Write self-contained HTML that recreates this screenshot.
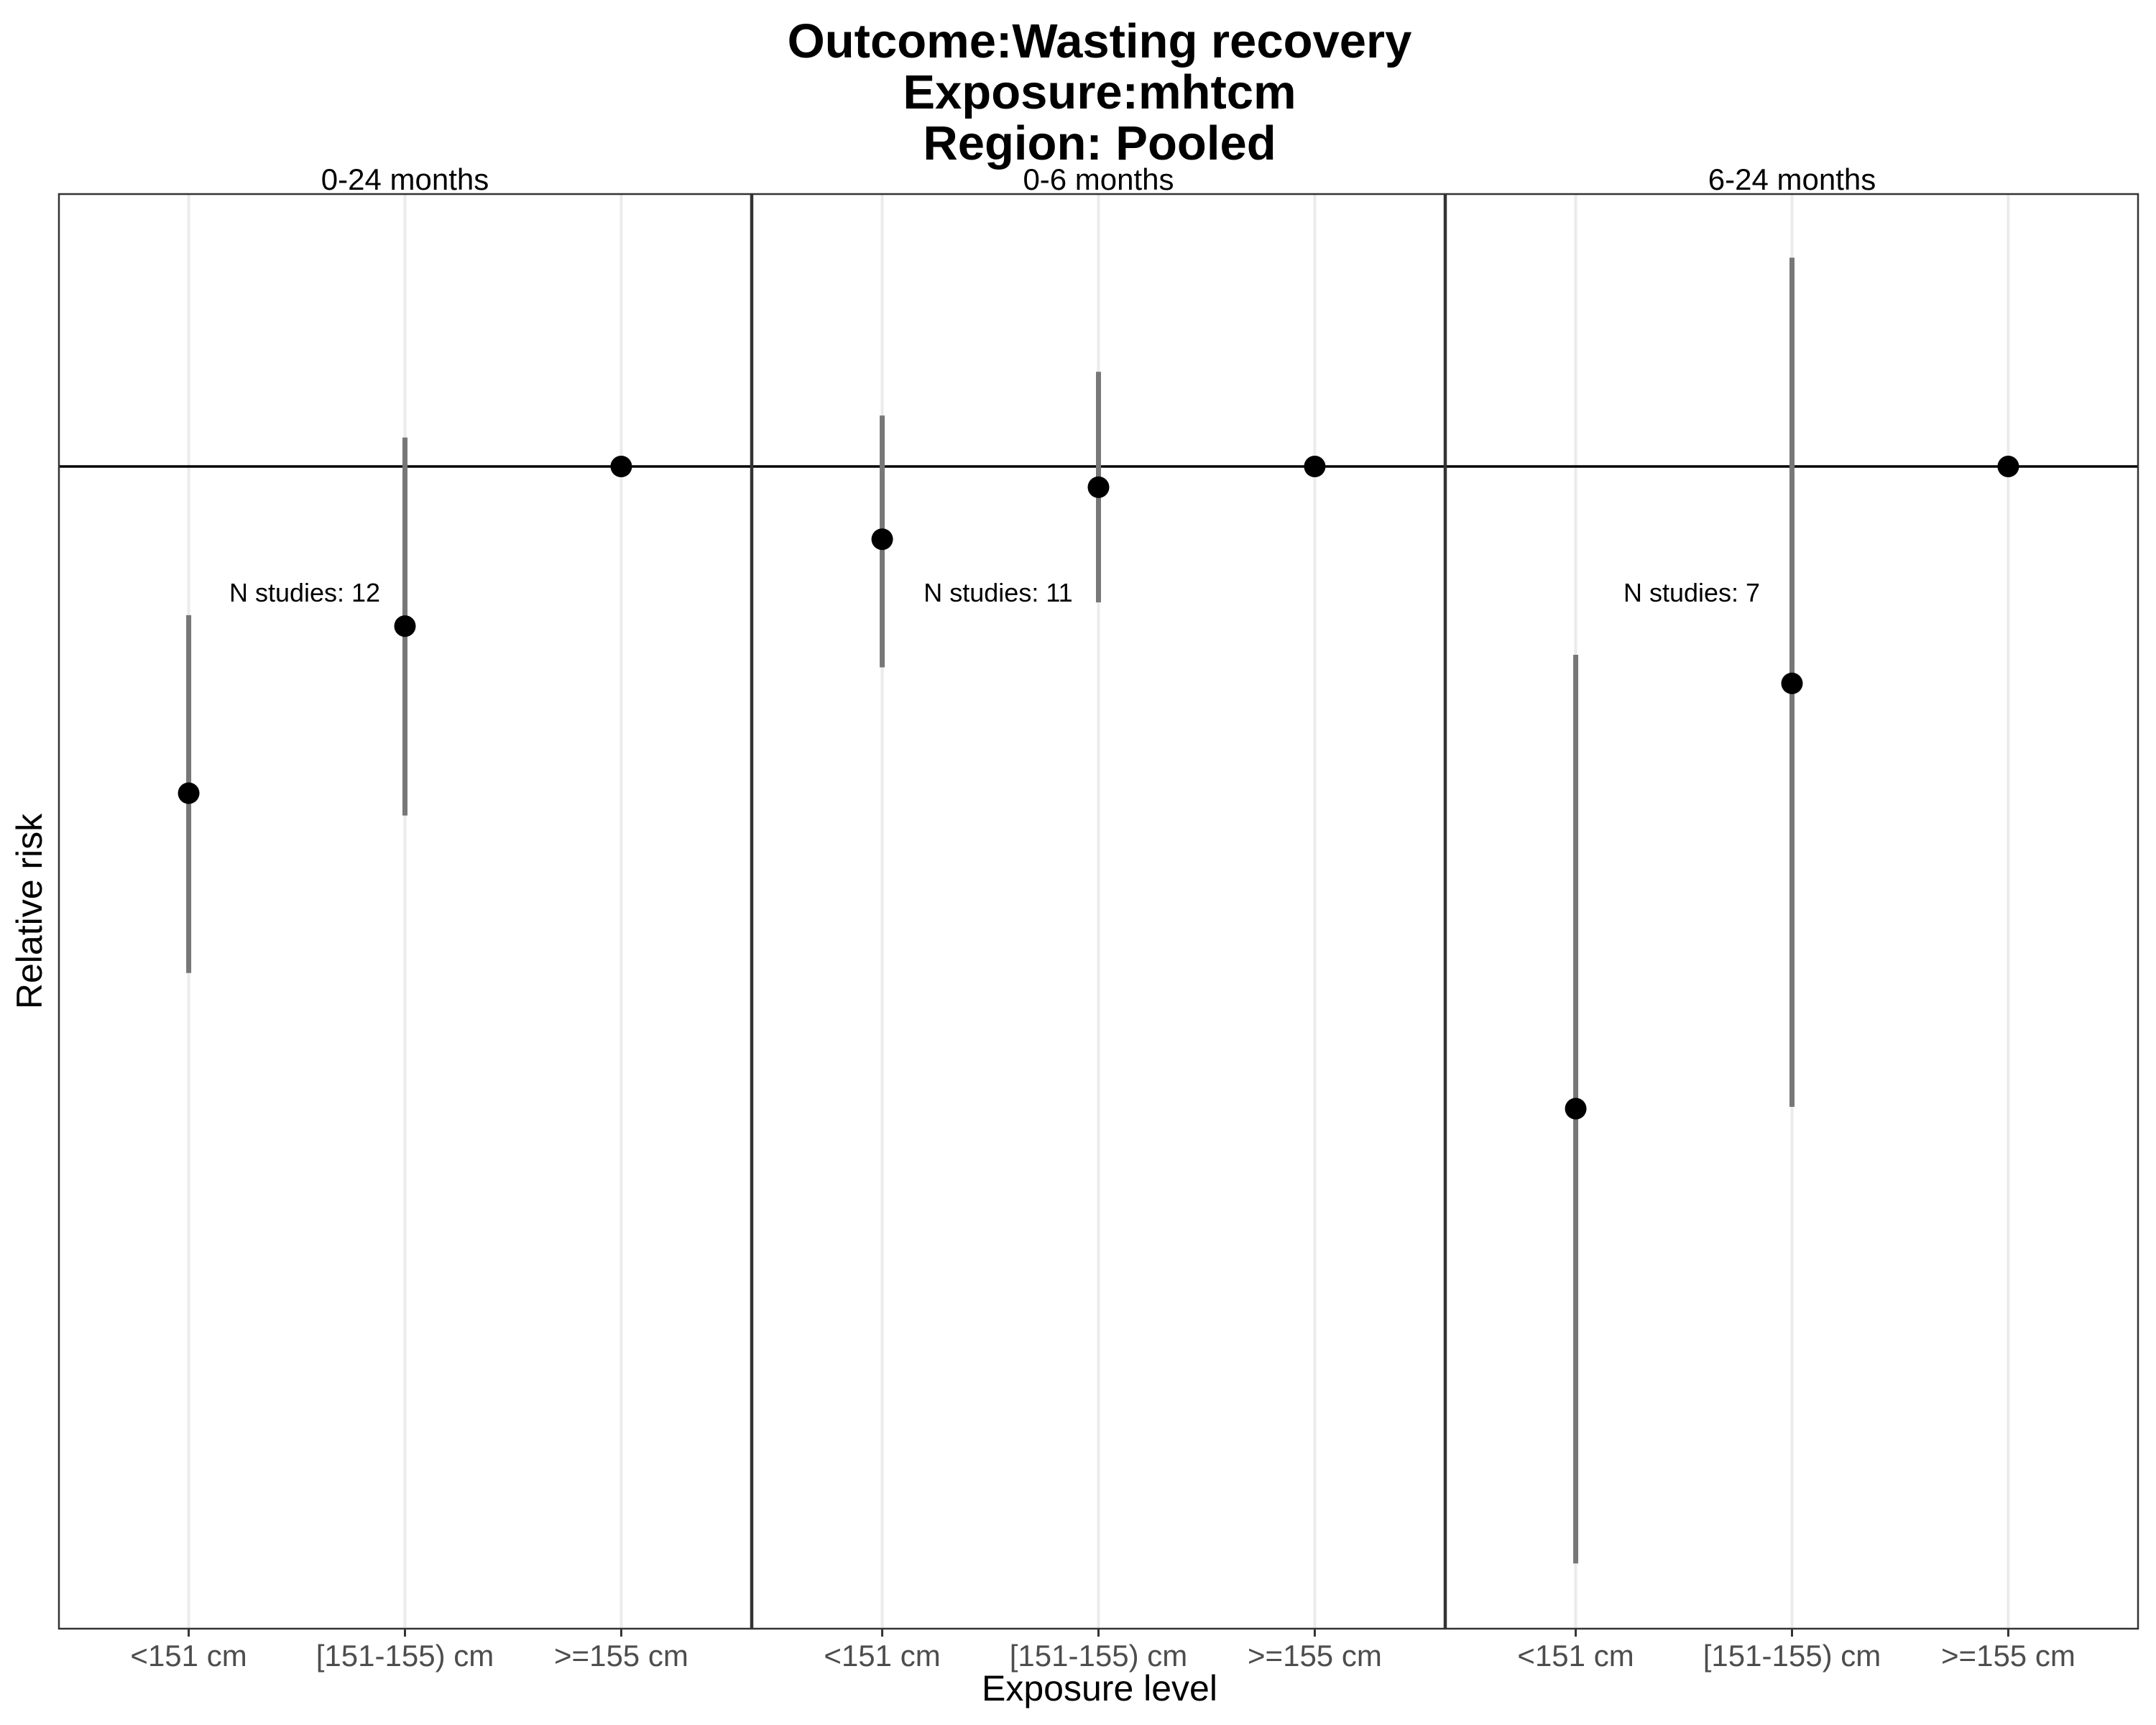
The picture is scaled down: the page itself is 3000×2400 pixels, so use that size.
<!DOCTYPE html>
<html><head><meta charset="utf-8"><style>html,body{margin:0;padding:0;background:#fff}svg{display:block;font-family:"Liberation Sans",Arial,sans-serif}</style></head>
<body>
<svg id="chart" width="3000" height="2400" viewBox="0 0 3000 2400" xmlns="http://www.w3.org/2000/svg">
<rect width="3000" height="2400" fill="#fff"/>
<g font-weight="bold" font-size="67" text-anchor="middle" fill="#000">
<text x="1530" y="80">Outcome:Wasting recovery</text>
<text x="1530" y="151">Exposure:mhtcm</text>
<text x="1530" y="222">Region: Pooled</text>
</g>
<g id="panels"></g>
<text x="1530" y="2366" font-size="50" text-anchor="middle" fill="#000">Exposure level</text>
<text transform="translate(58,1268) rotate(-90)" font-size="50" text-anchor="middle" fill="#000">Relative risk</text>
</svg>
<script>
const panelNames = ["0-24 months", "0-6 months", "6-24 months"];
const categories = ["<151 cm", "[151-155) cm", ">=155 cm"];
const rrEstimate = [[0.552, 0.748, 1], [0.876, 0.963, 1], [0.311, 0.674, 1]];
const rrLower = [[0.398, 0.530, null], [0.694, 0.781, null], [0.136, 0.312, null]];
const rrUpper = [[0.763, 1.054, null], [1.097, 1.188, null], [0.710, 1.462, null]];
const nStudies = ["N studies: 12", "N studies: 11", "N studies: 7"];

const NS = "http://www.w3.org/2000/svg";
const panelX = [82, 1047, 2012], panelW = 963, panelTop = 270, panelBottom = 2266;
function yScale(v) { return 649 - 765 * Math.log(v); }
function xScale(p, i) { return panelX[p] + panelW * (i + 0.6) / 3.2; }
function mk(tag, attrs, parent) {
  const e = document.createElementNS(NS, tag);
  for (const k in attrs) e.setAttribute(k, attrs[k]);
  parent.appendChild(e);
  return e;
}
const root = document.getElementById("panels");
panelNames.forEach((pn, p) => {
  const g = mk("g", {}, root);
  
  
  const st = mk("text", {x: panelX[p] + panelW / 2, y: 264, "font-size": 42, "text-anchor": "middle", fill: "#000"}, g);
  st.textContent = pn;
  
  
  categories.forEach((c, i) => {
    const gl = mk("line", {x1: xScale(p, i), x2: xScale(p, i), y1: panelTop, y2: panelBottom, stroke: "#ebebeb", "stroke-width": 4}, g);
    
    
  });
  const ref = mk("line", {x1: panelX[p], x2: panelX[p] + panelW, y1: yScale(1), y2: yScale(1), stroke: "#000", "stroke-width": 3.5}, g);
  
  
  categories.forEach((c, i) => {
    const x = xScale(p, i);
    if (rrLower[p][i] != null) {
      const eb = mk("line", {x1: x, x2: x, y1: yScale(rrUpper[p][i]), y2: yScale(rrLower[p][i]), stroke: "#777", "stroke-width": 7}, g);
      
      
    }
    const pt = mk("circle", {cx: x, cy: yScale(rrEstimate[p][i]), r: 15, fill: "#000"}, g);
    
    
    const tk = mk("line", {x1: x, x2: x, y1: panelBottom, y2: panelBottom + 11, stroke: "#333", "stroke-width": 3}, g);
    
    
    const tl = mk("text", {x: x, y: 2318, "font-size": 42, "text-anchor": "middle", fill: "#4d4d4d"}, g);
    tl.textContent = c;
    
    
  });
  const ns = mk("text", {x: panelX[p] + 342, y: 837, "font-size": 36, "text-anchor": "middle", fill: "#000"}, g);
  ns.textContent = nStudies[p];
  
  
  const border = mk("rect", {x: panelX[p], y: panelTop, width: panelW, height: panelBottom - panelTop, fill: "none", stroke: "#333", "stroke-width": 2.5}, g);
  
  
});
</script>
</body></html>
